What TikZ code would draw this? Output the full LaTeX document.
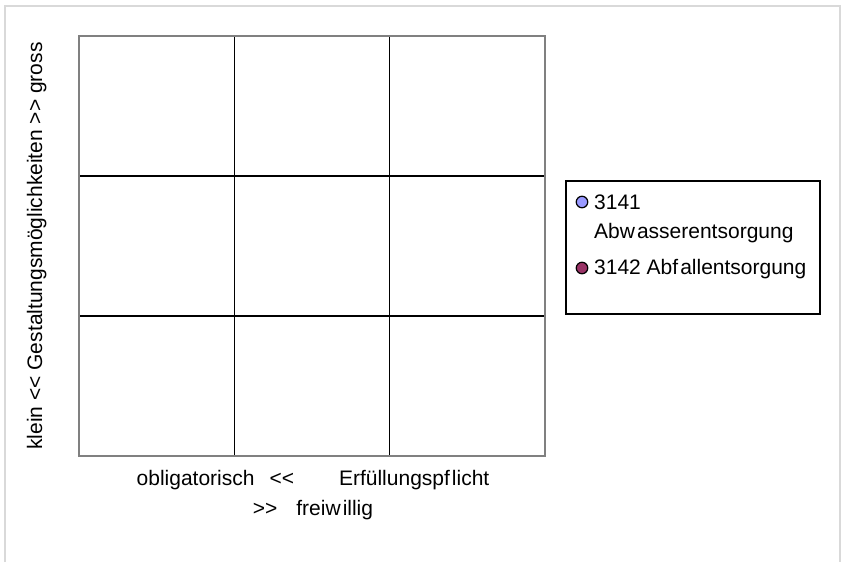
\documentclass[tikz,border=0pt]{standalone}
\usepackage{fontspec}
\usepackage{tikz}
\usetikzlibrary{positioning}
\newfontfamily\chartfont{Liberation Sans}
\definecolor{serieA}{RGB}{153,153,255}
\definecolor{serieB}{RGB}{153,51,102}

\begin{document}
\begin{tikzpicture}[x=1pt,y=-1pt,
  every node/.style={font=\chartfont\fontsize{21}{25}\selectfont,inner sep=0pt},
  frame/.style={draw=black!15,line width=1.5pt},
  plotarea/.style={draw=black!50,line width=2.8pt},
  gridline/.style={draw=black,line width=1.8pt},
  legendbox/.style={draw=black,line width=1.6pt},
  marker/.style={circle,draw=black,line width=1.2pt,minimum size=11.5pt},
  label/.style={anchor=base west}]

    \useasboundingbox (0,0) rectangle (843,562);
    \draw[frame] (5,562) -- (5,6) -- (840,6) -- (840,562);

    % grid of the 3x3 matrix
    \foreach \x in {234.5,389.5}
        \draw[gridline] (\x,36) -- (\x,456);
    \foreach \y in {176,316}
        \draw[gridline] (79,\y) -- (545,\y);
    \draw[plotarea] (79,36) rectangle (545,456);

    % axis titles
    \node[rotate=90,anchor=base](ytitle) at (42,246)
        {klein <{}< Gestaltungsmöglichkeiten >{}> gross};
    \node[anchor=base](xtitle) at (313,485)
        {obligatorisch\hspace{15pt}<{}<\hspace{45pt}Erfüllungspf\kern2pt licht};
    \node[anchor=base](xtitlecont) at (313,515)
        {>{}>\hspace{19pt}freiw\kern2pt illig};

    % legend
    \draw[legendbox] (566,181) rectangle (820,314);
    \node[marker,fill=serieA](markA) at (582,202) {};
    \node[label](textA) at (594,209) {3141};
    \node[label](textAcont) at (594,238) {Abw\kern2pt asserentsorgung};
    \node[marker,fill=serieB](markB) at (582,268) {};
    \node[label](textB) at (594,274) {3142 Abf\kern2pt allentsorgung};
\end{tikzpicture}
\end{document}
